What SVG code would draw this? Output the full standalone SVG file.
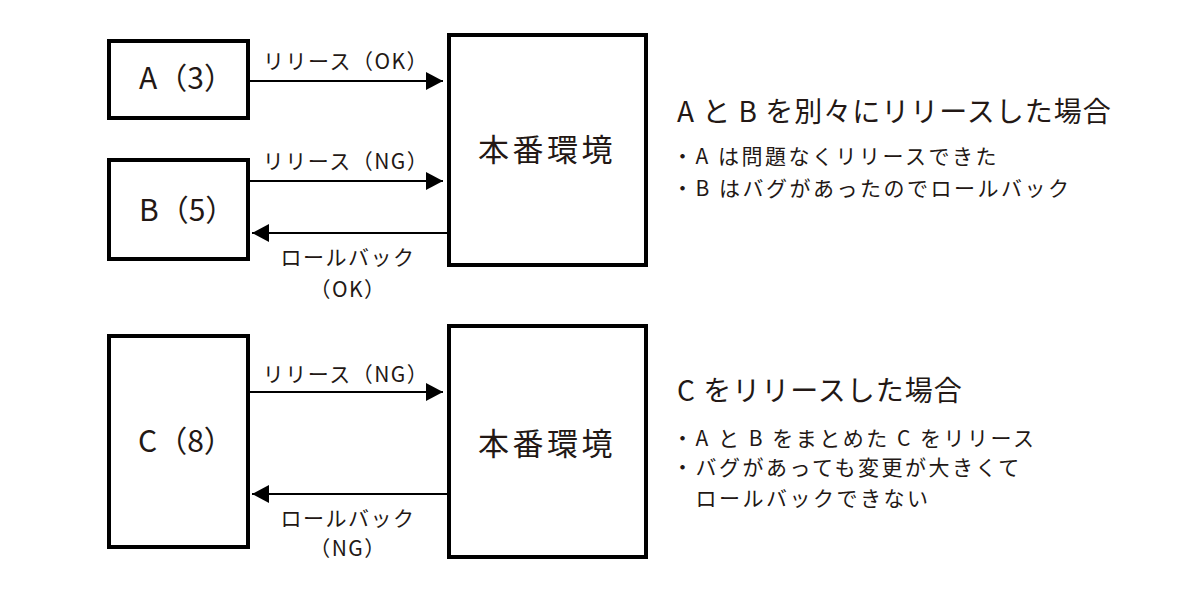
<svg xmlns="http://www.w3.org/2000/svg" width="1200" height="590" viewBox="0 0 1200 590">
<defs>
<style>
.box{fill:#fff;stroke:#000;stroke-width:4}
.t{font-family:"Noto Sans CJK JP","Noto Sans",sans-serif;fill:#231815}
.lbl{font-size:21px;text-anchor:middle;letter-spacing:1.5px}
.node{font-size:30px}
.env{font-size:31px;text-anchor:middle;letter-spacing:3.5px}
.h{font-size:28px;letter-spacing:1px}
.b{font-size:21px;letter-spacing:2.5px}
.ln{stroke:#000;stroke-width:2;fill:none}
</style>
<marker id="ah" viewBox="0 0 17 18" refX="17" refY="9" markerWidth="17" markerHeight="18" markerUnits="userSpaceOnUse" orient="auto">
<path d="M0,0 L17,9 L0,18 Z" fill="#000"/>
</marker>
</defs>
<rect width="1200" height="590" fill="#fff"/>
<g id="nodeA"><rect class="box" x="109" y="41" width="139" height="77"/><text class="t node" x="139" y="89">A（3）</text></g>
<g id="nodeB"><rect class="box" x="109" y="160" width="139" height="99"/><text class="t node" x="139" y="221">B（5）</text></g>
<g id="env1"><rect class="box" x="449" y="35" width="197" height="230"/><text class="t env" x="547" y="161">本番環境</text></g>
<g id="nodeC"><rect class="box" x="109" y="336" width="139" height="211"/><text class="t node" x="138" y="452">C（8）</text></g>
<g id="env2"><rect class="box" x="449" y="326" width="197" height="231"/><text class="t env" x="547" y="455">本番環境</text></g>
<g id="connectors">
<line class="ln" x1="250" y1="81" x2="443" y2="81" marker-end="url(#ah)"/>
<line class="ln" x1="250" y1="181" x2="443" y2="181" marker-end="url(#ah)"/>
<line class="ln" x1="447" y1="233" x2="252" y2="233" marker-end="url(#ah)"/>
<line class="ln" x1="250" y1="392" x2="443" y2="392" marker-end="url(#ah)"/>
<line class="ln" x1="447" y1="494" x2="252" y2="494" marker-end="url(#ah)"/>
<text class="t lbl" x="346" y="69">リリース（OK）</text>
<text class="t lbl" x="346" y="169">リリース（NG）</text>
<text class="t lbl" x="348" y="265">ロールバック</text>
<text class="t lbl" x="348" y="297">（OK）</text>
<text class="t lbl" x="346" y="382">リリース（NG）</text>
<text class="t lbl" x="348" y="526">ロールバック</text>
<text class="t lbl" x="348" y="556">（NG）</text>
</g>
<g id="notes1">
<text class="t h" x="677" y="122">A と B を別々にリリースした場合</text>
<text class="t b" x="672" y="164">・A は問題なくリリースできた</text>
<text class="t b" x="672" y="196">・B はバグがあったのでロールバック</text>
</g>
<g id="notes2">
<text class="t h" x="677" y="401">C をリリースした場合</text>
<text class="t b" x="672" y="446">・A と B をまとめた C をリリース</text>
<text class="t b" x="672" y="475">・バグがあっても変更が大きくて</text>
<text class="t b" x="672" y="506">　ロールバックできない</text>
</g>
</svg>
